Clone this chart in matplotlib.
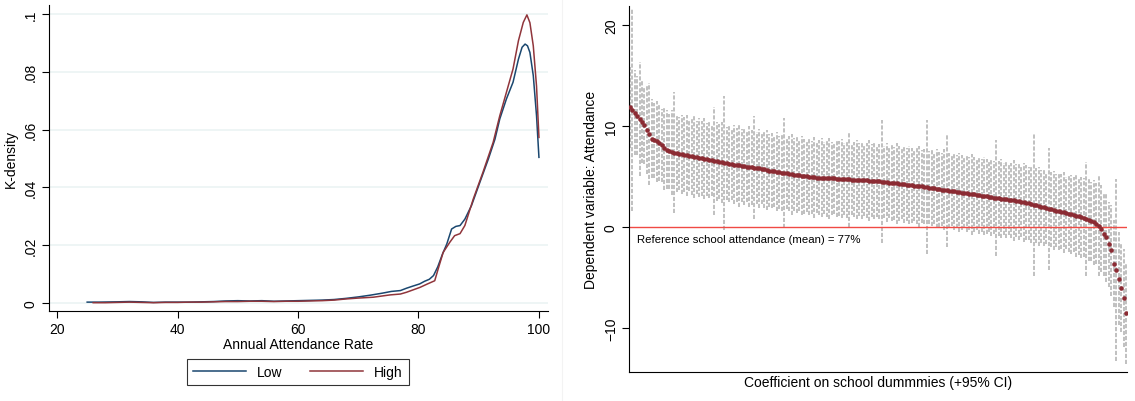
import matplotlib.pyplot as plt
from matplotlib.lines import Line2D

plt.rcParams['font.family'] = ['Liberation Sans', 'DejaVu Sans']
plt.rcParams['lines.scale_dashes'] = False

# kernel densities of annual attendance, low vs high group
low_x = [25, 27, 30, 32, 34, 36, 38, 40, 42, 44, 46, 48, 50, 52, 54, 56, 58, 60,
         62, 64, 66, 68, 70, 72, 74, 75.5, 77, 78, 79, 80.2, 81, 81.8, 82.5, 83.2,
         84, 84.7, 85.5, 86.2, 86.9, 87.7, 88.8, 90.2, 91.6, 92.7, 93.5, 94.6,
         95.7, 96.6, 97.2, 97.7, 98.1, 98.5, 99.06, 99.6, 100]
low_y = [0.0003, 0.0003, 0.0004, 0.0005, 0.0004, 0.0002, 0.0003, 0.0003, 0.0003,
         0.0004, 0.0005, 0.0007, 0.0008, 0.0007, 0.0008, 0.0006, 0.0007, 0.0008,
         0.0009, 0.0010, 0.0012, 0.0016, 0.0021, 0.0027, 0.0034, 0.0040, 0.0043,
         0.0051, 0.0058, 0.0066, 0.0075, 0.0082, 0.0095, 0.0125, 0.0170, 0.0204,
         0.0256, 0.0265, 0.0268, 0.0290, 0.0337, 0.0418, 0.0498, 0.0567, 0.0637,
         0.0706, 0.0764, 0.0844, 0.0885, 0.0896, 0.0890, 0.0867, 0.0787, 0.0648,
         0.0504]
high_x = [26, 28, 30, 32, 34, 36, 38, 40, 42, 44, 46, 48, 50, 52, 54, 56, 58, 60,
          62, 64, 66, 68, 70, 72.5, 75.3, 77, 78, 80.25, 81.5, 82.7, 83.3, 84.1,
          85.2, 86.0, 86.9, 87.7, 89.1, 90.7, 92.4, 93.5, 94.6, 95.7, 96.6, 97.4,
          98.0, 98.5, 99.06, 99.6, 100]
high_y = [0.0001, 0.0001, 0.0002, 0.0003, 0.0002, 0.0001, 0.0002, 0.0002, 0.0003,
          0.0003, 0.0004, 0.0005, 0.0005, 0.0006, 0.0006, 0.0005, 0.0006, 0.0006,
          0.0007, 0.0008, 0.0010, 0.0014, 0.0017, 0.0020, 0.0028, 0.0031, 0.0037,
          0.0054, 0.0066, 0.0077, 0.0120, 0.0175, 0.0210, 0.0233, 0.0240, 0.0268,
          0.0360, 0.0452, 0.0556, 0.0648, 0.0729, 0.0810, 0.0908, 0.0971, 0.0997,
          0.0970, 0.0890, 0.0750, 0.0573]
dens_yticks = [0, 0.02, 0.04, 0.06, 0.08, 0.1]
dens_ylabels = ['0', '.02', '.04', '.06', '.08', '.1']
att_xticks = [20, 40, 60, 80, 100]

# school dummy coefficients (sorted) and half-width of their 95% CI
coef = [
    11.85, 11.6, 11.3, 11.0, 10.7, 10.4, 10.05, 9.6, 9.2, 8.75,
    8.6, 8.5, 8.35, 8.1, 7.8, 7.65, 7.5, 7.42, 7.36, 7.3,
    7.25, 7.2, 7.15, 7.1, 7.07, 7.02, 6.97, 6.92, 6.86, 6.81,
    6.76, 6.71, 6.65, 6.6, 6.55, 6.5, 6.45, 6.4, 6.35, 6.3,
    6.26, 6.22, 6.18, 6.14, 6.1, 6.06, 6.02, 5.98, 5.95, 5.92,
    5.89, 5.85, 5.8, 5.75, 5.7, 5.65, 5.6, 5.56, 5.52, 5.48,
    5.44, 5.4, 5.36, 5.32, 5.28, 5.24, 5.2, 5.16, 5.12, 5.08,
    5.04, 5.01, 4.98, 4.94, 4.91, 4.9, 4.88, 4.87, 4.86, 4.85,
    4.83, 4.82, 4.81, 4.79, 4.78, 4.77, 4.76, 4.75, 4.73, 4.71,
    4.7, 4.68, 4.67, 4.65, 4.63, 4.62, 4.6, 4.58, 4.57, 4.55,
    4.53, 4.5, 4.47, 4.44, 4.41, 4.38, 4.35, 4.32, 4.29, 4.26,
    4.23, 4.2, 4.17, 4.14, 4.11, 4.09, 4.06, 4.02, 3.98, 3.95,
    3.91, 3.87, 3.84, 3.8, 3.76, 3.72, 3.69, 3.65, 3.61, 3.58,
    3.54, 3.5, 3.46, 3.42, 3.39, 3.35, 3.31, 3.27, 3.23, 3.2,
    3.16, 3.12, 3.08, 3.04, 3.0, 2.97, 2.93, 2.89, 2.86, 2.82,
    2.78, 2.75, 2.71, 2.67, 2.64, 2.6, 2.56, 2.51, 2.46, 2.4,
    2.34, 2.28, 2.22, 2.15, 2.09, 2.02, 1.95, 1.88, 1.81, 1.75,
    1.69, 1.64, 1.58, 1.52, 1.46, 1.4, 1.34, 1.28, 1.21, 1.14,
    1.07, 1.0, 0.92, 0.82, 0.72, 0.6, 0.5, 0.35, 0.15, -0.15,
    -0.7, -1.0, -1.7, -2.3, -3.6, -4.2, -5.1, -6.0, -7.0, -8.5,
]
ci_half = [
    4.0, 10.0, 4.2, 3.9, 5.6, 4.1, 3.8, 4.3, 5.0, 3.9,
    3.7, 4.0, 3.8, 3.6, 4.1, 3.9, 3.7, 4.2, 6.0, 3.8,
    3.6, 3.9, 3.7, 4.0, 3.5, 3.8, 4.1, 3.6, 3.9, 3.7,
    4.0, 3.6, 3.8, 3.5, 5.3, 3.9, 3.7, 4.0, 6.6, 3.6,
    3.8, 3.5, 3.9, 3.7, 4.1, 3.6, 3.8, 3.5, 4.0, 3.7,
    5.1, 3.6, 3.9, 3.5, 3.8, 4.0, 3.6, 3.7, 3.5, 3.9,
    3.6, 3.8, 5.4, 3.5, 3.7, 4.0, 3.6, 3.8, 3.5, 3.9,
    3.7, 3.5, 3.8, 3.6, 4.0, 3.5, 3.7, 3.9, 3.6, 3.8,
    4.0, 3.6, 3.5, 3.8, 3.7, 3.9, 3.6, 3.8, 4.7, 3.5,
    3.7, 3.9, 3.6, 3.8, 3.5, 3.7, 4.0, 3.6, 3.8, 3.5,
    3.7, 6.1, 3.6, 3.9, 3.5, 3.8, 3.6, 4.0, 3.7, 3.5,
    3.8, 3.6, 3.9, 3.7, 3.5, 3.8, 4.0, 3.6, 3.7, 6.6,
    3.6, 3.8, 3.5, 3.9, 3.7, 3.6, 4.0, 5.6, 3.7, 3.5,
    3.8, 3.6, 3.9, 3.7, 3.5, 3.8, 3.6, 4.0, 3.7, 3.5,
    3.8, 3.6, 3.9, 3.7, 3.5, 3.8, 3.6, 5.7, 3.7, 3.9,
    3.6, 3.8, 3.5, 3.7, 4.0, 3.6, 3.8, 3.5, 3.9, 3.7,
    3.6, 3.8, 7.0, 3.7, 3.9, 3.6, 3.8, 3.5, 6.0, 3.7,
    3.9, 3.6, 3.8, 3.7, 4.0, 3.6, 3.8, 3.9, 3.7, 4.1,
    3.8, 4.0, 3.9, 5.6, 4.1, 3.9, 4.2, 4.0, 5.0, 4.3,
    4.1, 4.4, 4.2, 4.5, 4.3, 9.0, 4.6, 4.4, 4.8, 5.0,
]
fe_yticks = [-10, 0, 10, 20]

fig = plt.figure(figsize=(11.35, 4.02), dpi=100)

# left: densities
ax1 = fig.add_axes([0.0432, 0.2239, 0.4396, 0.761])
for y in dens_yticks:
    ax1.axhline(y, color='#eaf2f3', lw=1.1, zorder=0)
ax1.plot(low_x, low_y, color='#1a476f', lw=1.1, label='Low')
ax1.plot(high_x, high_y, color='#90353b', lw=1.1, label='High')
ax1.set_xlim(18.67, 101.5)
ax1.set_ylim(-0.00277, 0.1031)
ax1.set_xticks(att_xticks)
ax1.set_yticks(dens_yticks)
ax1.set_yticklabels(dens_ylabels)
ax1.tick_params(axis='both', length=5, width=0.8, labelsize=10, pad=3)
ax1.tick_params(axis='y', labelrotation=90)
plt.setp(ax1.get_yticklabels(), va='center')
for s in ['top', 'right']:
    ax1.spines[s].set_visible(False)
for s in ['left', 'bottom']:
    ax1.spines[s].set_linewidth(0.8)
ax1.set_xlabel('Annual Attendance Rate', fontsize=10, labelpad=1)
ax1.set_ylabel('K-density', fontsize=10, labelpad=4)
fig.legend(loc='center', bbox_to_anchor=(0.2626, 0.072), ncol=2, fontsize=10,
           frameon=True, fancybox=False, edgecolor='black', handlelength=3.8,
           columnspacing=2.0, borderpad=0.45).get_frame().set_linewidth(0.8)

# faint divider between the two graphs
fig.add_artist(Line2D([0.4952, 0.4952], [0, 1], color='#f3f3f3', lw=0.8))

# right: sorted school effects with CIs
ax2 = fig.add_axes([0.5542, 0.0721, 0.4388, 0.9104])
n = len(coef)
rank = list(range(1, n + 1))
lower = [c - h for c, h in zip(coef, ci_half)]
upper = [c + h for c, h in zip(coef, ci_half)]
ax2.vlines(rank, lower, upper, colors='#b8b8b8', lw=1.25,
           linestyles=[(0, (3, 1.3))], zorder=1)
ax2.axhline(0, color='#f04a44', lw=1.0, zorder=2)
ax2.plot(rank, coef, 'o', ms=3.3, color='#8b2b33', mec='none', zorder=3)
ax2.text(0.016, 0.363, 'Reference school attendance (mean) = 77%',
         transform=ax2.transAxes, fontsize=8.2, va='center', ha='left')
ax2.set_xlim(0.8, n + 0.3)
ax2.set_ylim(-14.31, 21.85)
ax2.set_xticks([])
ax2.set_yticks(fe_yticks)
ax2.tick_params(axis='y', length=5, width=0.8, labelsize=10, pad=3,
                labelrotation=90)
plt.setp(ax2.get_yticklabels(), va='center')
for s in ['top', 'right']:
    ax2.spines[s].set_visible(False)
for s in ['left', 'bottom']:
    ax2.spines[s].set_linewidth(0.8)
ax2.set_xlabel('Coefficient on school dummmies (+95% CI)', fontsize=10,
               labelpad=2)
ax2.set_ylabel('Dependent variable: Attendance', fontsize=10, labelpad=4)

fig.savefig('out.png', dpi=100)
